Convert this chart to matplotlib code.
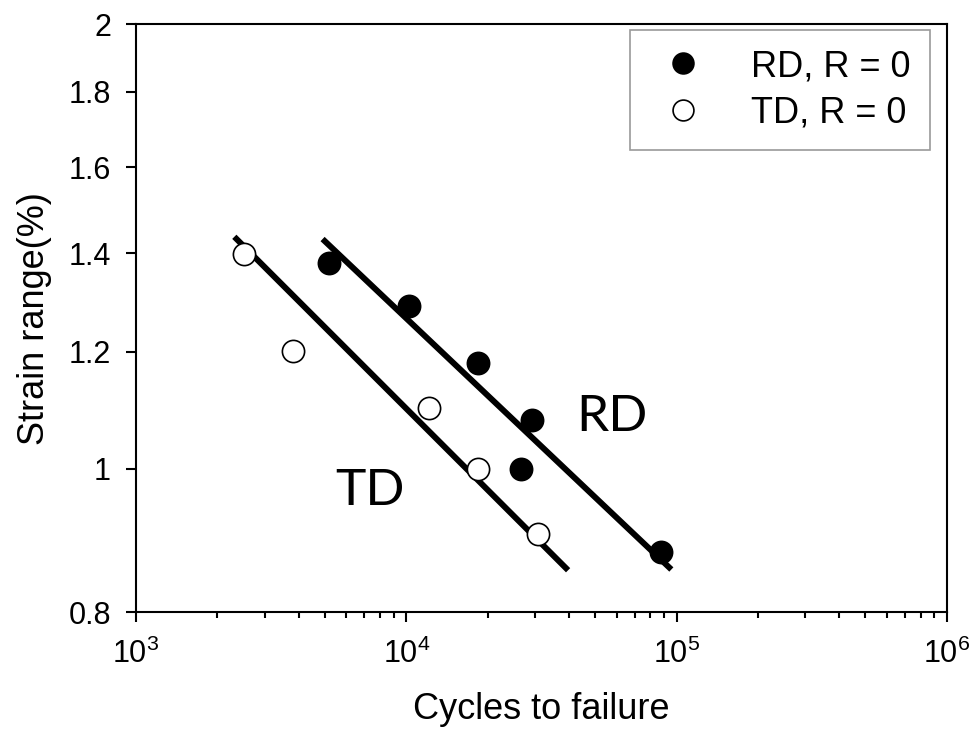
import matplotlib.pyplot as plt
import numpy as np

plt.rcParams['font.family'] = ['Liberation Sans', 'DejaVu Sans']
plt.rcParams['mathtext.fontset'] = 'custom'
plt.rcParams['mathtext.rm'] = 'Liberation Sans'
plt.rcParams['mathtext.it'] = 'Liberation Sans'

# RD data (filled circles)
rd_cycles = [5170, 10250, 18400, 29200, 26500, 87300]
rd_strain = [1.378, 1.29, 1.18, 1.08, 1.0, 0.878]

# TD data (open circles)
td_cycles = [2500, 3800, 12100, 18400, 30700]
td_strain = [1.398, 1.201, 1.10, 1.0, 0.903]

# fitted lines (end points)
rd_fit_cycles = [4900, 95700]
rd_fit_strain = [1.431, 0.855]
td_fit_cycles = [2310, 39700]
td_fit_strain = [1.436, 0.854]

y_ticks = [0.8, 1.0, 1.2, 1.4, 1.6, 1.8, 2.0]
y_tick_labels = ['0.8', '1', '1.2', '1.4', '1.6', '1.8', '2']

fig = plt.figure(figsize=(9.72, 7.34), dpi=100)
ax = fig.add_axes([0.14, 0.166, 0.834, 0.801])

ax.plot(rd_fit_cycles, rd_fit_strain, color='black', lw=4.3, solid_capstyle='butt')
ax.plot(td_fit_cycles, td_fit_strain, color='black', lw=4.3, solid_capstyle='butt')
ax.plot(rd_cycles, rd_strain, 'o', ms=16, mfc='black', mec='black', mew=1.2, label='RD, R = 0')
ax.plot(td_cycles, td_strain, 'o', ms=16, mfc='white', mec='black', mew=1.2, label='TD, R = 0')

ax.set_xscale('log')
ax.set_yscale('log')
ax.set_xlim(1e3, 1e6)
ax.set_ylim(0.8, 2.0)
ax.set_yticks(y_ticks)
ax.set_yticklabels(y_tick_labels)
ax.yaxis.set_minor_locator(plt.NullLocator())
ax.set_xticks([1e3, 1e4, 1e5, 1e6])
ax.set_xticklabels(['$10^3$', '$10^4$', '$10^5$', '$10^6$'])

for s in ax.spines.values():
    s.set_linewidth(1.5)
ax.tick_params(which='major', direction='out', length=7, width=1.5, labelsize=22, pad=11)
ax.tick_params(which='minor', direction='out', length=4.5, width=1.5)
ax.tick_params(axis='x', which='major', pad=12)

ax.set_xlabel('Cycles to failure', fontsize=26, labelpad=16)
ax.set_ylabel('Strain range(%)', fontsize=26, labelpad=12)

ax.text(57900, 1.084, 'RD', fontsize=37, family='Lato', ha='center', va='center')
ax.text(7360, 0.967, 'TD', fontsize=37, family='Lato', ha='center', va='center')

leg = ax.legend(loc='upper right', bbox_to_anchor=(0.979, 0.991), fontsize=26,
                frameon=True, fancybox=False, edgecolor='gray', borderaxespad=0,
                handlelength=1.85, handletextpad=0.95, borderpad=0.54,
                labelspacing=0.31, markerscale=15 / 16)
leg.get_frame().set_linewidth(1.2)

fig.savefig('out.png', dpi=100)
